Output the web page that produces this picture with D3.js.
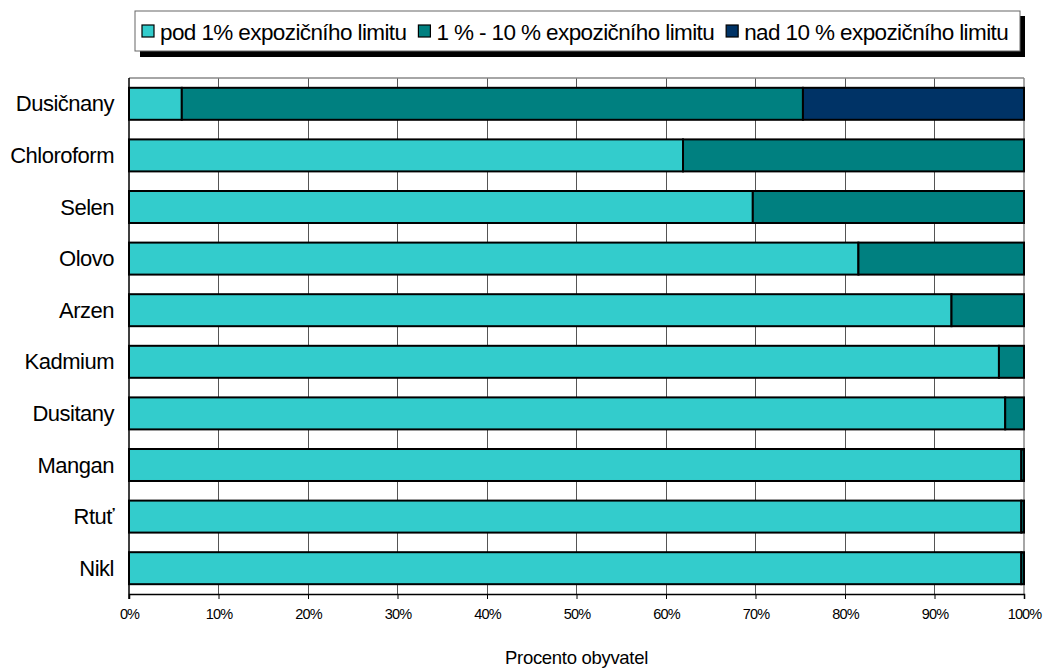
<!DOCTYPE html>
<html><head><meta charset="utf-8">
<script src="https://cdn.jsdelivr.net/npm/d3@7"></script>
<style>body{margin:0;background:#fff}svg{display:block;font-family:"Liberation Sans",Arial,sans-serif}</style>
</head><body>
<svg id="c" width="1048" height="669"></svg>
<script>
const categories = ["Dusičnany","Chloroform","Selen","Olovo","Arzen","Kadmium","Dusitany","Mangan","Rtuť","Nikl"];
const seriesNames = ["pod 1% expozičního limitu","1 % - 10 % expozičního limitu","nad 10 % expozičního limitu"];
const below1 =   [5.9, 61.9, 69.7, 81.5, 91.9, 97.2, 97.9, 99.7, 99.7, 99.7];
const from1to10 = [69.4, 38.1, 30.3, 18.5, 8.1, 2.8, 2.1, 0.3, 0.3, 0.3];
const above10 =  [24.7, 0, 0, 0, 0, 0, 0, 0, 0, 0];
const colors = ["#33CCCC","#008080","#003366"];
const tickValues = [0,10,20,30,40,50,60,70,80,90,100];
const xTitle = "Procento obyvatel";

const svg = d3.select("#c");
const m = {l:129, r:1024, t:78, b:594};
const x = d3.scaleLinear().domain([0,100]).range([m.l, m.r]);
const y = d3.scaleBand().domain(categories).range([m.t, m.b]).paddingInner(0.38).paddingOuter(0.19);

// gridlines
svg.append("g").selectAll("line").data(tickValues.slice(1,-1)).join("line")
  .attr("x1", d=>x(d)).attr("x2", d=>x(d)).attr("y1", m.t).attr("y2", m.b)
  .attr("stroke", "#555").attr("stroke-width", 1).attr("shape-rendering","crispEdges");
// plot frame top/right
svg.append("line").attr("x1", m.l).attr("x2", m.r).attr("y1", m.t).attr("y2", m.t).attr("stroke","#888").attr("stroke-width",1.5);
svg.append("line").attr("x1", m.r).attr("x2", m.r).attr("y1", m.t).attr("y2", m.b).attr("stroke","#888").attr("stroke-width",1.5);

const stackData = categories.map((c,i)=>({cat:c, s0:below1[i], s1:from1to10[i], s2:above10[i]}));
const stack = d3.stack().keys(["s0","s1","s2"])(stackData);

svg.append("g").selectAll("g").data(stack).join("g")
  .attr("fill", (d,i)=>colors[i])
  .selectAll("rect").data(d=>d.filter(p=>p[1]-p[0]>0)).join("rect")
  .attr("x", d=>x(d[0])).attr("width", d=>x(d[1])-x(d[0]))
  .attr("y", d=>y(d.data.cat)).attr("height", y.bandwidth())
  .attr("stroke", "#000").attr("stroke-width", 2);

// axes
const xa = svg.append("g").attr("transform", `translate(0,${m.b})`)
  .call(d3.axisBottom(x).tickValues(tickValues).tickFormat(d=>d+"%").tickSize(5).tickPadding(10));
xa.select(".domain").attr("stroke","#000").attr("stroke-width",1.5);
xa.selectAll(".tick line").attr("stroke","#000");
xa.selectAll("text").attr("font-size", 14.5).attr("font-family","Liberation Sans, Arial").attr("letter-spacing","-0.9px").attr("fill","#000");

svg.append("line").attr("x1", m.l).attr("x2", m.l).attr("y1", m.t).attr("y2", m.b+5).attr("stroke","#000").attr("stroke-width",1.5);

svg.append("g").selectAll("text").data(categories).join("text")
  .attr("x", 114).attr("y", d=>y(d)+y.bandwidth()/2)
  .attr("text-anchor","end").attr("dominant-baseline","central")
  .attr("font-size", 22).attr("letter-spacing","-0.5px").text(d=>d);

svg.append("text").attr("x", (m.l+m.r)/2).attr("y", 664).attr("text-anchor","middle")
  .attr("font-size", 18.5).attr("letter-spacing","-0.3px").text(xTitle);

// legend
const lg = svg.append("g");
lg.append("rect").attr("x",140).attr("y",16).attr("width",885).attr("height",41).attr("fill","#000");
lg.append("rect").attr("x",135).attr("y",11).attr("width",885).attr("height",40).attr("fill","#fff").attr("stroke","#666").attr("stroke-width",1);
let cx = 142;
seriesNames.forEach((name,i)=>{
  const g = lg.append("g").attr("transform",`translate(${cx},31)`);
  g.append("rect").attr("x",0).attr("y",-6).attr("width",12).attr("height",12)
    .attr("fill",colors[i]).attr("stroke","#000").attr("stroke-width",1.2);
  const t = g.append("text").attr("x",18).attr("y",1).attr("dominant-baseline","central")
    .attr("font-size",22.5).attr("letter-spacing","-0.6px").text(name);
  cx += 18 + t.node().getComputedTextLength() + 12;
});
</script>
</body></html>
